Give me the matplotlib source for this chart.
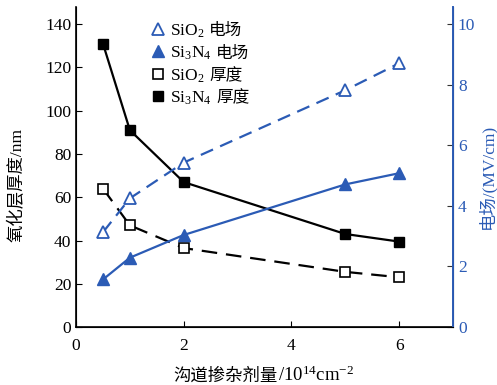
import matplotlib
matplotlib.use("Agg")
import matplotlib.pyplot as plt
from matplotlib.lines import Line2D
from matplotlib.offsetbox import TextArea, HPacker, VPacker, DrawingArea, AnchoredOffsetbox

plt.rcParams['font.family'] = ['Liberation Serif', 'Noto Sans CJK SC']
plt.rcParams['mathtext.fontset'] = 'custom'
plt.rcParams['mathtext.rm'] = 'Liberation Serif'
plt.rcParams['mathtext.it'] = 'Liberation Serif:italic'
plt.rcParams['axes.unicode_minus'] = False

# doping dose (1e14 cm^-2)
dose = [0.5, 1, 2, 5, 6]
# oxide thickness (nm)
sio2_thick = [64, 47, 36.5, 25.5, 23]
si3n4_thick = [131, 91, 67, 43, 39.5]
# electric field (MV/cm)
sio2_field = [3.13, 4.25, 5.43, 7.82, 8.71]
si3n4_field = [1.57, 2.29, 3.04, 4.71, 5.08]

names = ['SiO$_2$', 'Si$_3$N$_4$', 'SiO$_2$', 'Si$_3$N$_4$']
kinds = ['电场', '电场', '厚度', '厚度']

blue = '#2b5bb5'
fs = 12.5

fig = plt.figure(figsize=(4.97, 3.85), dpi=100)
ax = fig.add_axes([0.153, 0.1506, 0.7585, 0.8314])
ax2 = ax.twinx()

ax.plot(dose, si3n4_thick, '-', color='black', lw=1.6, marker='s', ms=6.5,
        mfc='black', mec='black')
ax.plot(dose, sio2_thick, '-', color='black', lw=1.6, dashes=(7, 4), marker='s',
        ms=6.5, mfc='white', mec='black', mew=1.2)
ax2.plot(dose, si3n4_field, '-', color=blue, lw=1.6, marker='^', ms=8,
         mfc=blue, mec=blue)
ax2.plot(dose, sio2_field, '-', color=blue, lw=1.6, dashes=(6, 3.5), marker='^',
         ms=8, mfc='white', mec=blue, mew=1.3)

ax.set_xlim(0, 7)
ax.set_ylim(0, 148)
ax2.set_ylim(0, 148 / 14)
ax.set_xticks([0, 2, 4, 6])
ax.set_yticks(range(0, 141, 20))
ax2.set_yticks(range(0, 11, 2))

ax.tick_params(direction='in', length=4, labelsize=fs, top=False)
ax.tick_params(axis='x', pad=8)
ax2.tick_params(direction='in', length=4, labelsize=fs, labelcolor=blue, color='#333333')

ax.spines['top'].set_visible(False)
ax2.spines['top'].set_visible(False)
ax2.spines['right'].set_color(blue)
ax2.spines['right'].set_linewidth(1.4)
ax.spines['left'].set_linewidth(1.2)
ax.spines['bottom'].set_linewidth(1.2)

ax.set_ylabel('氧化层厚度/nm', fontsize=fs)
ax.yaxis.set_label_coords(-0.135, 0.444)
ax2.set_ylabel('电场/(MV/cm)', fontsize=fs, color=blue)
ax2.yaxis.set_label_coords(1.065, 0.469)

# x label: CJK part and math part packed on one baseline
tp = dict(fontsize=fs)
xlab = HPacker(children=[TextArea('沟道掺杂剂量', textprops=tp),
                         TextArea('/10$^{14}$cm$^{-2}$', textprops=dict(fontsize=13.5))],
               align='baseline', pad=0, sep=0)
fig.add_artist(AnchoredOffsetbox(loc='lower center', child=xlab, pad=0, borderpad=0,
                                 frameon=False, bbox_to_anchor=(0.53, 0.0),
                                 bbox_transform=fig.transFigure))

# legend built from marker + formula + CJK word rows
markers = [
    dict(marker='^', ms=9, mfc='white', mec=blue, mew=1.3),
    dict(marker='^', ms=9, mfc=blue, mec=blue),
    dict(marker='s', ms=7, mfc='white', mec='black', mew=1.2),
    dict(marker='s', ms=7, mfc='black', mec='black'),
]
rows = []
for m, n, k in zip(markers, names, kinds):
    da = DrawingArea(12, 10, 0, 0)
    da.add_artist(Line2D([6], [4.5], ls='none', **m))
    rows.append(HPacker(children=[da, TextArea(n, textprops=tp),
                                  TextArea(k, textprops=dict(fontsize=fs - 0.5))],
                        align='baseline', pad=0, sep=3))
leg = VPacker(children=rows, align='left', pad=0, sep=3)
ax.add_artist(AnchoredOffsetbox(loc='upper left', child=leg, pad=0, borderpad=0,
                                frameon=False, bbox_to_anchor=(0.195, 0.955),
                                bbox_transform=ax.transAxes))

fig.savefig('out.png', dpi=100)
